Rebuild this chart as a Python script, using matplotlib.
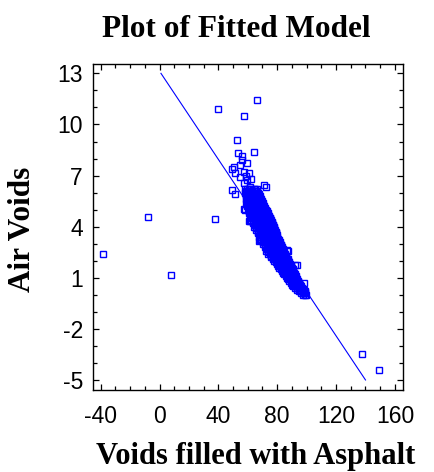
import numpy as np
import matplotlib
matplotlib.use("Agg")
import matplotlib.pyplot as plt
from matplotlib.ticker import MultipleLocator

# ======================
# Plot of Fitted Model: Air Voids vs Voids filled with Asphalt
# ======================

# scattered observations (VFA, air voids)
outlier_vfa = [-38.4, -8.1, 8.0, 37.5, 40.0, 66.0, 57.3, 52.7, 64.3, 53.6, 55.9,
               50.9, 54.8, 59.4, 49.3, 51.6, 57.3, 60.7, 54.8, 59.4, 62.3, 70.7,
               72.3, 49.3, 51.1, 57.3, 61.8, 58.3, 61.6, 68.4, 57.7, 60.9, 67.8,
               86.6, 92.3, 97.9, 87.3, 93.4, 99.1, 84.3, 56.2, 58.6, 137.7, 149.3]
outlier_av = [2.4, 4.55, 1.18, 4.45, 10.93, 11.46, 10.5, 9.1, 8.4, 8.31, 8.17,
              7.52, 7.62, 7.72, 7.37, 7.14, 7.23, 7.14, 6.94, 6.74, 6.78, 6.45,
              6.31, 6.15, 5.92, 6.55, 6.35, 5.0, 4.35, 3.22, 5.02, 4.35, 3.18,
              2.63, 1.75, 0.68, 2.57, 1.75, 0.18, 1.26, 7.9, 7.0, -3.47, -4.43]

# dense band of observations, read row by row (air voids level, VFA values)
band_av = [6.2, 6.1, 6.0, 5.9, 5.8, 5.7, 5.6, 5.5, 5.4, 5.3, 5.2, 5.1, 5.0,
           4.9, 4.8, 4.7, 4.6, 4.5, 4.4, 4.3, 4.2, 4.1, 4.0, 3.9, 3.8, 3.7,
           3.6, 3.5, 3.4, 3.3, 3.2, 3.1, 3.0, 2.9, 2.8, 2.7, 2.6, 2.5, 2.4,
           2.3, 2.2, 2.1, 2.0, 1.9, 1.8, 1.7, 1.6, 1.5, 1.4, 1.3, 1.2, 1.1,
           1.0, 0.9, 0.8, 0.7, 0.6, 0.5, 0.4, 0.3, 0.2, 0.1, 0.0]
band_vfa = [
    [58.1, 59.6, 61.0, 62.3, 63.9, 65.2, 66.0],
    [58.8, 60.3, 61.7, 63.1, 64.5, 65.8, 66.6],
    [58.3, 59.7, 61.2, 62.5, 63.8, 65.1, 66.3, 67.0],
    [58.9, 60.4, 61.8, 63.2, 64.6, 65.9, 67.3],
    [58.5, 59.9, 61.1, 62.6, 63.9, 65.3, 66.6, 68.0],
    [59.2, 60.7, 62.0, 63.4, 64.7, 66.1, 67.4, 68.5],
    [58.6, 60.0, 61.4, 62.8, 64.0, 65.5, 66.8, 68.1, 69.0],
    [59.4, 60.8, 62.2, 63.6, 65.0, 66.3, 67.6, 69.0, 69.7],
    [58.8, 60.2, 61.5, 62.9, 64.3, 65.6, 66.9, 68.3, 69.6, 70.1],
    [59.8, 61.1, 62.5, 63.9, 65.2, 66.6, 67.9, 69.3, 70.6],
    [59.5, 60.8, 62.1, 63.5, 64.8, 66.2, 67.5, 68.9, 70.2, 71.1],
    [60.5, 61.8, 63.2, 64.6, 65.9, 67.3, 68.6, 70.0, 71.3, 71.8],
    [60.2, 61.5, 62.9, 64.2, 65.6, 66.9, 68.3, 69.6, 71.0, 72.2],
    [61.1, 62.4, 63.8, 65.2, 66.5, 67.9, 69.2, 70.6, 71.9, 72.9],
    [60.8, 62.1, 63.5, 64.8, 66.2, 67.6, 68.9, 70.3, 71.6, 72.9, 73.4],
    [61.8, 63.2, 64.6, 65.9, 67.3, 68.7, 70.0, 71.4, 72.7, 74.0],
    [61.6, 62.9, 64.3, 65.6, 67.0, 68.4, 69.7, 71.1, 72.4, 73.8, 74.6],
    [62.6, 63.9, 65.3, 66.7, 68.0, 69.4, 70.8, 72.1, 73.5, 74.8, 75.2],
    [62.3, 63.6, 65.0, 66.4, 67.7, 69.1, 70.5, 71.8, 73.2, 74.5, 75.7],
    [63.5, 64.9, 66.3, 67.6, 69.0, 70.4, 71.7, 73.1, 74.4, 75.8, 76.2],
    [63.4, 64.8, 66.1, 67.5, 68.9, 70.2, 71.6, 72.9, 74.3, 75.6, 76.6],
    [64.6, 66.0, 67.4, 68.7, 70.1, 71.5, 72.8, 74.2, 75.5, 76.9, 77.1],
    [64.5, 65.8, 67.2, 68.6, 69.9, 71.3, 72.6, 74.0, 75.3, 76.7, 77.5],
    [65.7, 67.1, 68.5, 69.8, 71.2, 72.6, 73.9, 75.3, 76.6, 78.0],
    [65.6, 66.9, 68.3, 69.7, 71.0, 72.4, 73.7, 75.1, 76.4, 77.8, 78.4],
    [66.9, 68.2, 69.6, 71.0, 72.3, 73.7, 75.0, 76.4, 77.7, 78.9],
    [66.8, 68.1, 69.5, 70.8, 72.2, 73.5, 74.9, 76.2, 77.6, 78.9, 79.2],
    [68.0, 69.4, 70.7, 72.1, 73.5, 74.8, 76.2, 77.5, 78.9, 79.8],
    [67.9, 69.2, 70.6, 71.9, 73.3, 74.6, 76.0, 77.4, 78.7, 80.1],
    [69.2, 70.5, 71.9, 73.3, 74.6, 76.0, 77.3, 78.7, 80.0, 80.7],
    [69.1, 70.4, 71.8, 73.1, 74.5, 75.8, 77.2, 78.5, 79.9, 81.1],
    [70.4, 71.7, 73.1, 74.5, 75.8, 77.2, 78.5, 79.9, 81.2, 81.7],
    [70.3, 71.6, 73.0, 74.3, 75.7, 77.0, 78.4, 79.7, 81.1, 82.1],
    [71.6, 72.9, 74.3, 75.7, 77.0, 78.4, 79.7, 81.1, 82.4, 82.7],
    [71.5, 72.8, 74.2, 75.5, 76.9, 78.2, 79.6, 80.9, 82.3, 83.1],
    [72.8, 74.1, 75.5, 76.9, 78.2, 79.6, 80.9, 82.3, 83.6],
    [72.7, 74.0, 75.4, 76.7, 78.1, 79.4, 80.8, 82.1, 83.5, 84.1],
    [73.9, 75.3, 76.7, 78.0, 79.4, 80.7, 82.1, 83.4, 84.6],
    [74.0, 75.3, 76.7, 78.0, 79.4, 80.7, 82.1, 83.4, 84.8, 85.0],
    [75.5, 76.8, 78.2, 79.5, 80.9, 82.2, 83.6, 84.9, 85.7],
    [76.1, 77.4, 78.8, 80.1, 81.5, 82.8, 84.2, 85.5, 86.3],
    [77.3, 78.6, 80.0, 81.3, 82.7, 84.0, 85.4, 86.7, 87.0],
    [78.0, 79.3, 80.7, 82.0, 83.4, 84.7, 86.1, 87.4, 87.6],
    [79.1, 80.4, 81.8, 83.1, 84.5, 85.8, 87.2, 88.2],
    [79.7, 81.0, 82.4, 83.7, 85.1, 86.4, 87.8, 88.7],
    [80.8, 82.1, 83.5, 84.8, 86.2, 87.5, 88.9, 89.3],
    [81.4, 82.7, 84.1, 85.4, 86.8, 88.1, 89.5, 89.8],
    [82.5, 83.8, 85.2, 86.5, 87.9, 89.2, 90.4],
    [83.1, 84.4, 85.8, 87.1, 88.5, 89.8, 90.9],
    [84.2, 85.5, 86.9, 88.2, 89.6, 90.9, 91.5],
    [84.8, 86.1, 87.5, 88.8, 90.2, 91.5, 92.0],
    [85.9, 87.2, 88.6, 89.9, 91.3, 92.5],
    [86.5, 87.8, 89.2, 90.5, 91.9, 93.1],
    [87.6, 88.9, 90.3, 91.6, 93.0, 93.7],
    [88.2, 89.5, 90.9, 92.2, 93.6, 94.2],
    [89.2, 90.5, 91.9, 93.2, 94.6, 94.9],
    [89.8, 91.1, 92.5, 93.8, 95.2, 95.4],
    [91.0, 92.3, 93.7, 95.0, 96.2],
    [91.9, 93.2, 94.6, 95.9, 96.9],
    [93.4, 94.7, 96.1, 97.4, 98.0],
    [94.5, 95.8, 97.2, 98.5, 99.0],
    [95.9, 97.2, 98.5, 99.2],
    [97.4, 98.6, 99.4],
]

# fitted model: air voids = intercept + slope * VFA
fit_intercept = 13.13
fit_slope = -0.1295
fit_x_range = [1.0, 140.0]

x_ticks = [-40, 0, 40, 80, 120, 160]
y_ticks = [13, 10, 7, 4, 1, -2, -5]

blue = "#0000ff"

band_x = []
band_y = []
for av, row in zip(band_av, band_vfa):
    band_x.extend(row)
    band_y.extend([av] * len(row))

fig = plt.figure(figsize=(4.34, 4.72), dpi=100)
ax = fig.add_axes([0.2136, 0.1737, 0.715, 0.6907])

line_x = np.array(fit_x_range)
ax.plot(line_x, fit_intercept + fit_slope * line_x, color=blue, lw=0.8)

ax.plot(band_x, band_y, "s", ls="none", ms=3.9, mfc="none", mec=blue, mew=1.0)
ax.plot(outlier_vfa, outlier_av, "s", ls="none", ms=3.9, mfc="none", mec=blue, mew=1.0)

ax.set_xlim(-45.4, 165.5)
ax.set_ylim(-5.59, 13.55)
ax.set_xticks(x_ticks)
ax.set_yticks(y_ticks)
ax.set_xticklabels([str(t) for t in x_ticks])
ax.set_yticklabels([str(t) for t in y_ticks])
ax.xaxis.set_minor_locator(MultipleLocator(10))
ax.yaxis.set_minor_locator(MultipleLocator(1))

ax.tick_params(which="both", direction="in", top=True, right=True, width=0.9)
ax.tick_params(which="major", length=4.5)
ax.tick_params(which="minor", length=2.6)
ax.tick_params(axis="x", which="major", pad=11)
ax.tick_params(axis="y", which="major", pad=7)
for lab in ax.get_xticklabels() + ax.get_yticklabels():
    lab.set_family("Liberation Sans")
    lab.set_fontsize(16.5)
for s in ax.spines.values():
    s.set_linewidth(1.0)

fig.text(0.544, 0.922, "Plot of Fitted Model", ha="center", va="baseline",
         family="Liberation Serif", weight="bold", fontsize=22.5)
fig.text(0.588, 0.016, "Voids filled with Asphalt", ha="center", va="baseline",
         family="Liberation Serif", weight="bold", fontsize=22)
fig.text(0.052, 0.515, "Air Voids", ha="center", va="center", rotation=90,
         family="Liberation Serif", weight="bold", fontsize=22.5)

fig.savefig("out.png", dpi=100)
